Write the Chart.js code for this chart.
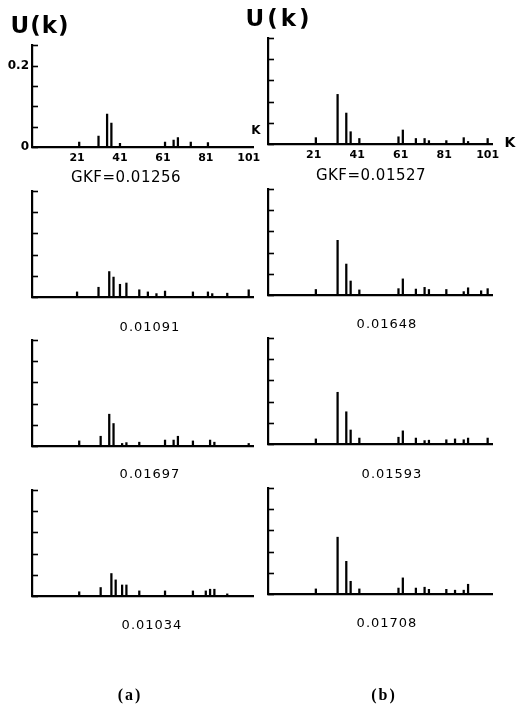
<!DOCTYPE html>
<html>
<head>
<meta charset="utf-8">
<script src="https://cdn.jsdelivr.net/npm/chart.js@4"></script>
<style>
  body { margin: 0; background: #fff; }
  #fig { position: relative; width: 517px; height: 708px; overflow: hidden; }
  .box { position: absolute; }
  .txt { position: absolute; transform: translate(-50%, -50%); color: #000; white-space: nowrap; font-family: "DejaVu Sans", sans-serif; }
</style>
</head>
<body>
<div id="fig"></div>
<script>
// data: wave number k and U(k) for every panel
var kA1 = [22, 31, 35, 37, 41, 62, 66, 68, 74, 82];
var uA1 = [0.012, 0.027, 0.081, 0.059, 0.009, 0.012, 0.017, 0.023, 0.012, 0.011];
var kB1 = [22, 32, 36, 38, 42, 60, 62, 68, 72, 74, 82, 90, 92, 101];
var uB1 = [0.015, 0.117, 0.073, 0.029, 0.013, 0.017, 0.033, 0.013, 0.013, 0.008, 0.008, 0.015, 0.006, 0.013];
var kA2 = [21, 31, 36, 38, 41, 44, 50, 54, 58, 62, 75, 82, 84, 91, 101];
var uA2 = [0.012, 0.023, 0.060, 0.047, 0.030, 0.033, 0.017, 0.012, 0.008, 0.014, 0.012, 0.012, 0.008, 0.009, 0.017];
var kB2 = [22, 32, 36, 38, 42, 60, 62, 68, 72, 74, 82, 90, 92, 98, 101];
var uB2 = [0.013, 0.129, 0.073, 0.033, 0.012, 0.015, 0.038, 0.014, 0.018, 0.013, 0.013, 0.008, 0.017, 0.010, 0.015];
var kA3 = [22, 32, 36, 38, 42, 44, 50, 62, 66, 68, 75, 83, 85, 101];
var uA3 = [0.012, 0.023, 0.075, 0.053, 0.006, 0.008, 0.009, 0.014, 0.014, 0.023, 0.012, 0.014, 0.009, 0.006];
var kB3 = [22, 32, 36, 38, 42, 60, 62, 68, 72, 74, 82, 86, 90, 92, 101];
var uB3 = [0.012, 0.122, 0.076, 0.033, 0.014, 0.016, 0.031, 0.014, 0.008, 0.009, 0.010, 0.012, 0.010, 0.014, 0.014];
var kA4 = [22, 32, 37, 39, 42, 44, 50, 62, 75, 81, 83, 85, 91];
var uA4 = [0.010, 0.020, 0.053, 0.038, 0.026, 0.026, 0.012, 0.012, 0.012, 0.012, 0.016, 0.016, 0.005];
var kB4 = [22, 32, 36, 38, 42, 60, 62, 68, 72, 74, 82, 86, 90, 92];
var uB4 = [0.012, 0.134, 0.077, 0.030, 0.012, 0.014, 0.038, 0.014, 0.016, 0.011, 0.011, 0.009, 0.009, 0.023];

var xTickLabels = [21, 41, 61, 81, 101];
var yLabelled = [0, 0.2];
var captionsA = ['GKF=0.01256', '0.01091', '0.01697', '0.01034'];
var captionsB = ['GKF=0.01527', '0.01648', '0.01593', '0.01708'];

var fig = document.getElementById('fig');

//  short tick marks pointing into the plot, like the original axes
var inwardTicks = {
  id: 'inwardTicks',
  afterDraw: function(chart) {
    var y = chart.scales.y;
    var ctx = chart.ctx;
    var left = chart.chartArea.left;
    ctx.save();
    ctx.strokeStyle = '#000';
    ctx.lineWidth = 1.6;
    y.ticks.forEach(function(t) {
      var py = Math.round(y.getPixelForValue(t.value)) + 0.5;
      ctx.beginPath();
      ctx.moveTo(left, py);
      ctx.lineTo(left + 6, py);
      ctx.stroke();
    });
    ctx.restore();
  }
};

function addText(str, cx, cy, css) {
  var d = document.createElement('div');
  d.className = 'txt';
  d.textContent = str;
  d.style.left = cx + 'px';
  d.style.top = cy + 'px';
  if (css) d.style.cssText += css;
  fig.appendChild(d);
}

function panel(ks, us, axisX, plotW, plotTop, plotBottom, first, withYLabels) {
  var padTop = 6, padRight = 16, yW = 32, xH = 28;
  var w = yW + plotW + padRight;
  var h = (plotBottom - plotTop) + padTop + xH;
  var box = document.createElement('div');
  box.className = 'box';
  box.style.left = (axisX - yW) + 'px';
  box.style.top = (plotTop - padTop) + 'px';
  var cv = document.createElement('canvas');
  cv.width = w;
  cv.height = h;
  box.appendChild(cv);
  fig.appendChild(box);

  var pts = ks.map(function(k, i) { return { x: k, y: us[i] }; });

  new Chart(cv, {
    type: 'bar',
    data: {
      datasets: [{
        data: pts,
        backgroundColor: '#000',
        borderWidth: 0,
        barThickness: 1.6
      }]
    },
    options: {
      responsive: false,
      animation: false,
      devicePixelRatio: 1,
      layout: { padding: { top: padTop, right: padRight, left: 0, bottom: 0 } },
      plugins: { legend: { display: false }, tooltip: { enabled: false } },
      scales: {
        x: {
          type: 'linear',
          min: 0,
          max: 103,
          offset: false,
          grid: { display: false, drawTicks: false },
          border: { display: true, color: '#000', width: 2.2 },
          afterBuildTicks: function(s) {
            s.ticks = xTickLabels.map(function(v) { return { value: v }; });
          },
          afterFit: function(s) { s.height = xH; },
          ticks: {
            display: first,
            padding: 5,
            maxRotation: 0,
            autoSkip: false,
            color: '#000',
            font: { family: 'DejaVu Sans', size: 11, weight: 'bold' }
          }
        },
        y: {
          min: 0,
          max: 0.25,
          grid: { display: false, drawTicks: false },
          border: { display: true, color: '#000', width: 2.2 },
          afterFit: function(s) { s.width = yW; },
          ticks: {
            display: withYLabels,
            stepSize: 0.05,
            padding: 3,
            color: '#000',
            font: { family: 'DejaVu Sans', size: 12, weight: 'bold' },
            callback: function(v) {
              for (var i = 0; i < yLabelled.length; i++) {
                if (Math.abs(v - yLabelled[i]) < 1e-6) return String(yLabelled[i]);
              }
              return '';
            }
          }
        }
      }
    },
    plugins: [inwardTicks]
  });
}

// column (a)
panel(kA1, uA1, 32, 221, 41, 147, true, true);
panel(kA2, uA2, 32, 221, 191, 297, false, false);
panel(kA3, uA3, 32, 221, 340, 446, false, false);
panel(kA4, uA4, 32, 221, 490, 596, false, false);
// column (b)
panel(kB1, uB1, 268, 224, 38, 144, true, false);
panel(kB2, uB2, 268, 224, 189, 295, false, false);
panel(kB3, uB3, 268, 224, 338, 444, false, false);
panel(kB4, uB4, 268, 224, 488, 594, false, false);

// labels
addText('U(k)', 40, 25, 'font-weight:bold;font-size:23px;letter-spacing:1px;');
addText('U(k)', 279, 18, 'font-weight:bold;font-size:23px;letter-spacing:3px;');
addText('K', 256, 130, 'font-weight:bold;font-size:12px;');
addText('K', 510, 142, 'font-weight:bold;font-size:14px;');

var capA = [[126, 177], [150, 326], [150, 473], [152, 624]];
var capB = [[371, 175], [387, 323], [392, 473], [387, 622]];
captionsA.forEach(function(c, i) {
  addText(c, capA[i][0], capA[i][1], i === 0 ? 'font-size:15px;letter-spacing:0.5px;' : 'font-size:13px;letter-spacing:1px;');
});
captionsB.forEach(function(c, i) {
  addText(c, capB[i][0], capB[i][1], i === 0 ? 'font-size:15px;letter-spacing:0.5px;' : 'font-size:13px;letter-spacing:1px;');
});

addText('(a)', 130, 695, 'font-family:"Liberation Serif",serif;font-weight:bold;font-size:16px;letter-spacing:2px;');
addText('(b)', 384, 695, 'font-family:"Liberation Serif",serif;font-weight:bold;font-size:16px;letter-spacing:2px;');
</script>
</body>
</html>
